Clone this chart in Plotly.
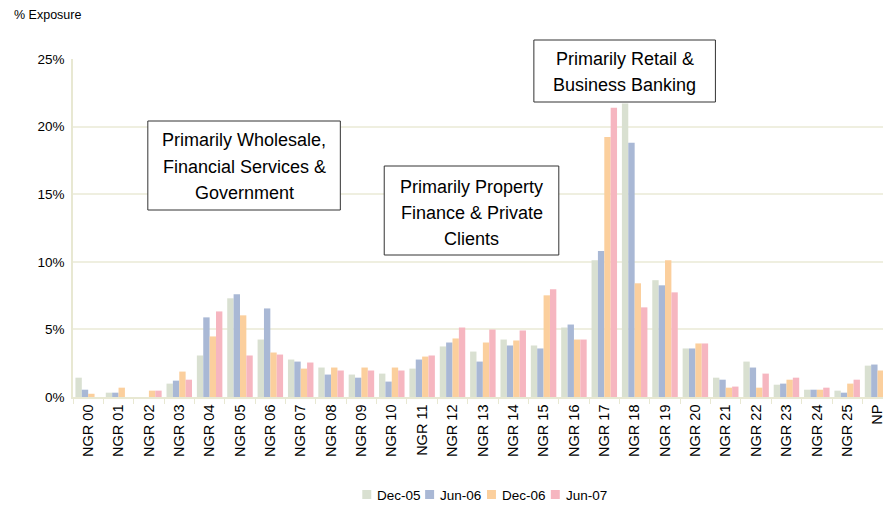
import plotly.graph_objects as go

categories = [f"NGR {i:02d}" for i in range(26)] + ["NP"]
series_names = ["Dec-05", "Jun-06", "Dec-06", "Jun-07"]
dec05 = [1.43, 0.32, 0, 0.99, 3.07, 7.30, 4.25, 2.77, 2.18, 1.66, 1.73, 2.10, 3.74, 3.36,
         4.25, 3.81, 5.14, 10.12, 21.70, 8.64, 3.59, 1.43, 2.62, 0.91, 0.54, 0.47, 2.32]
jun06 = [0.54, 0.32, 0, 1.21, 5.89, 7.60, 6.55, 2.62, 1.66, 1.43, 1.14, 2.77, 4.03, 2.62,
         3.81, 3.59, 5.36, 10.79, 18.80, 8.26, 3.59, 1.28, 2.18, 0.99, 0.54, 0.32, 2.40]
dec06 = [0.24, 0.69, 0.47, 1.88, 4.48, 6.04, 3.29, 2.10, 2.18, 2.18, 2.18, 2.99, 4.33, 4.03,
         4.18, 7.52, 4.25, 19.24, 8.41, 10.12, 3.96, 0.69, 0.69, 1.28, 0.54, 0.99, 1.96]
jun07 = [0, 0, 0.47, 1.28, 6.33, 3.07, 3.14, 2.55, 1.96, 1.96, 1.96, 3.07, 5.14, 4.99,
         4.92, 7.97, 4.25, 21.40, 6.63, 7.74, 3.96, 0.77, 1.73, 1.43, 0.69, 1.28, None]
series_values = [dec05, jun06, dec06, jun07]
colors = ["#d9e0d1", "#a9b8d5", "#fbcf9d", "#f6b6c0"]
y_tickvals = [0, 5, 10, 15, 20, 25]
y_ticktext = ["0%", "5%", "10%", "15%", "20%", "25%"]

FONT = "Arial, Liberation Sans, sans-serif"
W, H = 885, 506
ML, MT, MB = 73, 59, 109
PW = W - ML
PH = H - MT - MB


def px(x):
    return (x - ML) / PW


def py(y):
    return (H - MB - y) / PH


fig = go.Figure()
for name, vals, col in zip(series_names, series_values, colors):
    fig.add_trace(go.Bar(x=categories, y=vals, name=name, marker=dict(color=col, line=dict(width=0)),
                         showlegend=False))

fig.update_layout(
    width=W, height=H,
    margin=dict(l=ML, r=0, t=MT, b=MB),
    plot_bgcolor="white", paper_bgcolor="white",
    barmode="group", bargap=0.16, bargroupgap=0,
    font=dict(family=FONT, color="#000000"),
    xaxis=dict(type="category", range=[-0.5, 26.18], showgrid=False,
               showline=True, linecolor="#e8e8d2", linewidth=1.5,
               ticks="outside", tickson="boundaries", ticklen=5, tickcolor="#e8e8d2",
               tickangle=-90, tickfont=dict(size=14.5, family=FONT, color="#000")),
    yaxis=dict(range=[0, 25], tickvals=y_tickvals, ticktext=y_ticktext,
               showgrid=True, gridcolor="#efefe0", gridwidth=1.5,
               showline=True, linecolor="#e8e8d2", linewidth=1.5, zeroline=False,
               ticks="", ticklabelstandoff=4,
               tickfont=dict(size=13.5, family=FONT, color="#000")),
)

fig.add_annotation(text="% Exposure", xref="paper", yref="paper", x=px(12), y=py(15),
                   xanchor="left", yanchor="middle", showarrow=False,
                   font=dict(size=12.5, family=FONT, color="#000"))

boxes = [
    ((148, 341, 121, 210), ["Primarily Wholesale,", "Financial Services &", "Government"], [140, 166.5, 193]),
    ((385, 560, 166, 255), ["Primarily Property", "Finance & Private", "Clients"], [187, 213, 239]),
    ((535, 717, 40, 102), ["Primarily Retail &", "Business Banking"], [59, 85]),
]
for (x0, x1, y0, y1), lines, ys in boxes:
    fig.add_shape(type="rect", xref="paper", yref="paper", x0=px(x0), x1=px(x1), y0=py(y0), y1=py(y1),
                  line=dict(color="#333333", width=1), fillcolor="white", layer="above")
    for t, yy in zip(lines, ys):
        fig.add_annotation(text=t, xref="paper", yref="paper", x=px((x0 + x1) / 2), y=py(yy),
                           xanchor="center", yanchor="middle", showarrow=False,
                           font=dict(size=18, family=FONT, color="#000"))

legend_sq_x = [363, 426, 488, 552]
for name, col, lx in zip(series_names, colors, legend_sq_x):
    fig.add_shape(type="rect", xref="paper", yref="paper", x0=px(lx), x1=px(lx + 9),
                  y0=py(490), y1=py(499), line=dict(width=0), fillcolor=col)
    fig.add_annotation(text=name, xref="paper", yref="paper", x=px(lx + 13), y=py(495),
                       xanchor="left", yanchor="middle", showarrow=False,
                       font=dict(size=13.5, family=FONT, color="#000"))

fig.write_html("out.html", config={"displayModeBar": False},
               post_script="document.body.style.margin='0';document.body.style.overflow='hidden';")
